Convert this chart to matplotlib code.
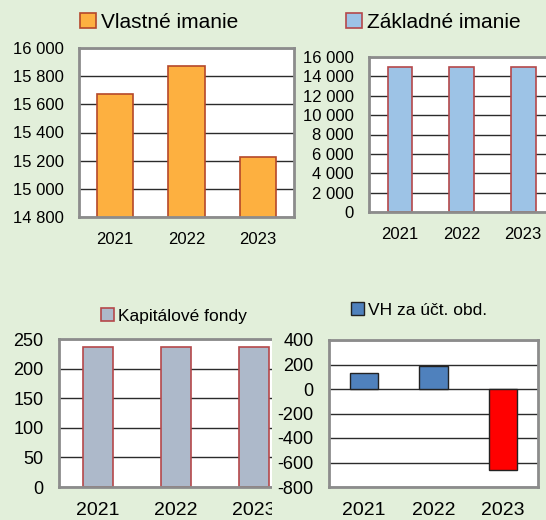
import matplotlib
matplotlib.use("Agg")
import matplotlib.pyplot as plt
from matplotlib.patches import Rectangle
from matplotlib.ticker import FuncFormatter

plt.rcParams['font.family'] = ['Liberation Sans', 'DejaVu Sans']

years = ['2021', '2022', '2023']
vlastne_imanie = [15675, 15870, 15225]
zakladne_imanie = [15000, 15000, 15000]
kapitalove_fondy = [237, 237, 237]
vh_za_obd = [130, 185, -660]

BG = '#E2EFDA'
W, H = 546, 520


def px_axes(fig, x0, y0, x1, y1):
    # pixel box (from top-left) -> figure fraction
    return fig.add_axes([x0 / W, 1 - y1 / H, (x1 - x0) / W, (y1 - y0) / H])


def thousands(v, pos):
    return '{:,.0f}'.format(v).replace(',', ' ')


def style(ax, ylim, step, tick_size, year_size):
    ax.set_facecolor('white')
    ax.set_xlim(-0.5, 2.5)
    ax.set_ylim(*ylim)
    ax.set_yticks(range(ylim[0], ylim[1] + 1, step))
    ax.yaxis.set_major_formatter(FuncFormatter(thousands))
    ax.grid(axis='y', color='#2b2b2b', linewidth=1.0, zorder=0)
    ax.set_axisbelow(True)
    for s in ax.spines.values():
        s.set_color('#8c8c8c')
        s.set_linewidth(2.0)
    ax.tick_params(axis='both', length=0, pad=11)
    ax.tick_params(axis='y', labelsize=tick_size)
    ax.tick_params(axis='x', labelsize=year_size)
    ax.set_xticks(range(len(years)))
    ax.set_xticklabels(years)


def legend(ax, handle, label, x, y, size):
    ax.legend([handle], [label], loc='center left',
              bbox_to_anchor=(x / W, 1 - y / H),
              bbox_transform=ax.figure.transFigure,
              frameon=False, fontsize=size, borderpad=0, borderaxespad=0,
              handlelength=0.75, handleheight=0.75, handletextpad=0.25)


fig = plt.figure(figsize=(W / 100, H / 100), dpi=100, facecolor=BG)

# Vlastne imanie
ax1 = px_axes(fig, 79, 48, 294, 217)
b1 = ax1.bar(range(3), vlastne_imanie, width=0.51, color='#FDB040',
             edgecolor='#B5482A', linewidth=1.2, zorder=2)
style(ax1, (14800, 16000), 200, 12, 12)
legend(ax1, b1[0], 'Vlastné imanie', 80, 22, 15)

# Zakladne imanie
ax2 = px_axes(fig, 369, 57, 554, 212)
b2 = ax2.bar(range(3), zakladne_imanie, width=0.4, color='#9DC3E6',
             edgecolor='#B5484A', linewidth=1.2, zorder=2)
style(ax2, (0, 16000), 2000, 12, 12)
legend(ax2, b2[0], 'Základné imanie', 346, 22, 15)

# Kapitalove fondy
ax3 = px_axes(fig, 59, 339, 293, 487)
ax3.set_zorder(0)
b3 = ax3.bar(range(3), kapitalove_fondy, width=0.39, color='#ADB9CA',
             edgecolor='#B5484A', linewidth=1.2, zorder=2)
style(ax3, (0, 250), 50, 13, 14)
legend(ax3, b3[0], 'Kapitálové fondy', 101, 316, 12.5)

# chart 4 covers the right edge of chart 3
fig.patches.append(Rectangle((272 / W, 0), 1, 230 / H, transform=fig.transFigure,
                             facecolor=BG, edgecolor='none', zorder=0.5))

# VH za uct. obd.
ax4 = px_axes(fig, 329, 340, 538, 487)
ax4.set_zorder(1)
colors4 = ['#4F81BD' if v >= 0 else '#FF0000' for v in vh_za_obd]
b4 = ax4.bar(range(3), vh_za_obd, width=0.41, color=colors4,
             edgecolor='#222222', linewidth=1.0, zorder=2)
style(ax4, (-800, 400), 200, 13, 14)
legend(ax4, b4[0], 'VH za účt. obd.', 351, 310, 12.5)

fig.savefig('out.png', dpi=100, facecolor=BG)
